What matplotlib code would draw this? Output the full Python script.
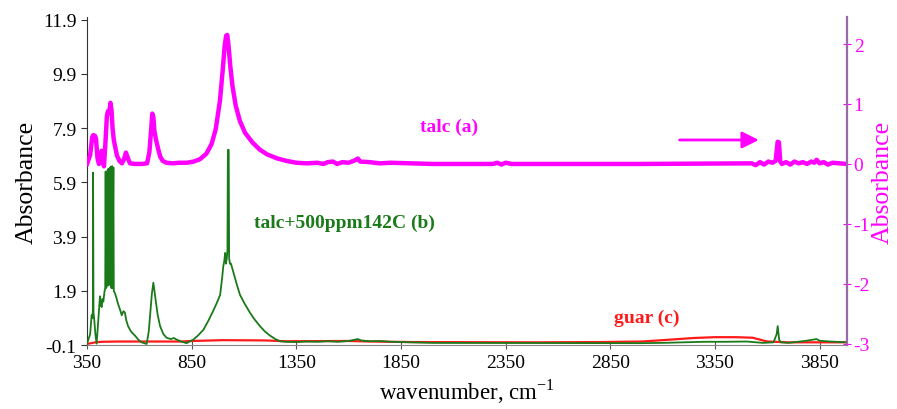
import matplotlib.pyplot as plt
import matplotlib.ticker as mticker

plt.rcParams['font.family'] = ['Liberation Serif', 'DejaVu Serif']
plt.rcParams['axes.unicode_minus'] = False

# talc (a), right axis: (wavenumber, absorbance)
talc_a = [(350, 0.0), (365, 0.15), (375, 0.45), (380, 0.48), (384, 0.40), (388, 0.47),
          (393, 0.42), (400, 0.10), (407, 0.0), (414, 0.12), (420, 0.22), (425, 0.05),
          (431, -0.04), (438, 0.35), (445, 0.80), (450, 0.88), (456, 0.85), (462, 1.02),
          (467, 0.90), (472, 0.60), (478, 0.40), (485, 0.28), (493, 0.14), (505, 0.05),
          (517, 0.01), (527, 0.08), (536, 0.19), (545, 0.10), (555, 0.01), (580, 0.0),
          (610, 0.0), (637, 0.01), (648, 0.20), (656, 0.55), (662, 0.84), (667, 0.78),
          (672, 0.55), (680, 0.40), (690, 0.25), (700, 0.12), (712, 0.05), (730, 0.02),
          (760, 0.01), (790, 0.02), (827, 0.02), (860, 0.04), (890, 0.08), (920, 0.17),
          (945, 0.33), (965, 0.58), (985, 1.05), (998, 1.55), (1008, 1.98), (1015, 2.14),
          (1020, 2.15), (1026, 1.98), (1034, 1.65), (1045, 1.30), (1060, 0.98),
          (1080, 0.72), (1105, 0.52), (1140, 0.36), (1175, 0.24), (1210, 0.16),
          (1260, 0.09), (1305, 0.05), (1350, 0.02), (1400, 0.01), (1450, 0.02),
          (1480, 0.0), (1500, 0.03), (1525, 0.04), (1545, 0.0), (1570, 0.03),
          (1600, 0.02), (1630, 0.06), (1644, 0.09), (1655, 0.04), (1700, 0.03),
          (1750, 0.01), (1800, 0.02), (1900, 0.01), (2000, 0.0), (2290, 0.0),
          (2310, 0.02), (2330, -0.01), (2350, 0.02), (2380, 0.0), (3000, 0.0),
          (3526, 0.01), (3545, -0.02), (3565, 0.03), (3585, -0.01), (3605, 0.04),
          (3625, 0.02), (3640, 0.05), (3650, 0.37), (3656, 0.36), (3662, 0.04),
          (3670, 0.0), (3690, 0.03), (3710, -0.01), (3730, 0.04), (3750, 0.01),
          (3770, 0.03), (3790, 0.0), (3810, 0.04), (3825, 0.02), (3836, 0.07),
          (3850, 0.01), (3870, 0.03), (3890, -0.01), (3912, 0.02), (3980, 0.0)]

# talc+500ppm142C (b), left axis
talc_b = [(350, -0.05), (365, 0.3), (372, 1.0), (376, 0.9), (378, 1.2), (379, 6.26),
          (381, 1.1), (385, 0.8), (390, 0.3), (396, -0.05), (402, 0.6), (408, 1.2),
          (412, 1.7), (416, 1.4), (420, 1.3), (424, 1.6), (428, 1.5), (434, 1.9),
          (437, 2.0), (439, 6.3), (441, 2.0), (446, 2.1), (449, 6.38), (451, 2.1),
          (454, 6.4), (456, 2.2), (460, 6.45), (462, 2.1), (465, 6.48), (467, 2.0),
          (470, 6.5), (472, 2.0), (476, 6.45), (478, 1.9), (484, 1.8), (492, 1.6),
          (499, 1.4), (508, 1.2), (516, 1.0), (524, 1.15), (531, 1.1), (538, 0.8),
          (546, 0.6), (560, 0.4), (579, 0.25), (595, 0.1), (611, 0.0), (635, -0.06),
          (645, 0.4), (651, 0.97), (660, 1.8), (667, 2.2), (672, 1.9), (679, 1.5),
          (688, 1.0), (699, 0.6), (715, 0.3), (730, 0.17), (750, 0.12), (765, 0.16),
          (778, 0.1), (800, 0.03), (826, -0.03), (840, 0.03), (858, 0.1), (880, 0.25),
          (906, 0.46), (930, 0.8), (954, 1.18), (970, 1.45), (986, 1.75), (996, 2.4),
          (1001, 2.8), (1006, 3.0), (1010, 3.3), (1014, 2.9), (1018, 3.1), (1021, 3.4),
          (1023, 7.1), (1027, 7.1), (1029, 3.1), (1033, 2.9), (1038, 2.9), (1049, 2.6),
          (1065, 2.15), (1081, 1.75), (1105, 1.4), (1129, 1.09), (1150, 0.85),
          (1176, 0.6), (1200, 0.4), (1224, 0.25), (1250, 0.12), (1272, 0.04),
          (1300, 0.02), (1350, 0.01), (1400, 0.03), (1450, 0.02), (1500, 0.04),
          (1550, 0.02), (1600, 0.05), (1630, 0.1), (1644, 0.12), (1660, 0.07),
          (1700, 0.04), (1750, 0.05), (1800, 0.02), (1850, 0.01), (1900, 0.0),
          (2000, -0.02), (3000, -0.03), (3100, -0.02), (3200, 0.0), (3300, 0.02),
          (3400, 0.02), (3500, 0.03), (3580, -0.02), (3630, 0.0), (3645, 0.3),
          (3650, 0.6), (3657, 0.1), (3665, 0.0), (3700, -0.02), (3780, 0.05),
          (3836, 0.12), (3850, 0.06), (3900, 0.03), (3980, 0.0)]

# guar (c), left axis
guar_c = [(350, -0.06), (390, 0.0), (420, 0.02), (500, 0.03), (800, 0.03), (850, 0.05),
          (1000, 0.08), (1200, 0.07), (1300, 0.04), (1600, 0.05), (1700, 0.03),
          (1900, 0.01), (2500, 0.0), (2800, 0.01), (3000, 0.03), (3100, 0.08),
          (3250, 0.16), (3350, 0.19), (3450, 0.19), (3530, 0.17), (3600, 0.03),
          (3700, 0.0), (3980, 0.0)]

left_ticks = [-0.1, 1.9, 3.9, 5.9, 7.9, 9.9, 11.9]
right_ticks = [-3, -2, -1, 0, 1, 2]
x_ticks = [350, 850, 1350, 1850, 2350, 2850, 3350, 3850]

magenta = '#ff00ff'
green = '#1a7a1a'
red = '#ff1a1a'

fig = plt.figure(figsize=(8.97, 4.10), dpi=100)
ax = fig.add_axes([0.097, 0.156, 0.847, 0.80])
ax2 = ax.twinx()

ax.plot(*zip(*guar_c), color=red, lw=1.6, zorder=2)
ax.plot(*zip(*talc_b), color=green, lw=1.3, zorder=3)
ax2.plot(*zip(*talc_a), color=magenta, lw=3.2)

ax.set_xlim(350, 3980)
ax.set_ylim(-0.1, 12.0)
ax2.set_ylim(-3.02, 2.45)

ax.set_xticks(x_ticks)
ax.set_yticks(left_ticks)
ax.yaxis.set_major_formatter(mticker.FormatStrFormatter('%.1f'))
ax2.set_yticks(right_ticks)

for a in (ax, ax2):
    a.spines['top'].set_visible(False)
ax.spines['right'].set_visible(False)
ax2.spines['left'].set_visible(False)
ax2.spines['bottom'].set_visible(False)
ax.spines['left'].set_color('#333333')
ax.spines['bottom'].set_color('#888888')
ax2.spines['right'].set_color('#9a6aa8')
ax2.spines['right'].set_linewidth(1.6)

ax.tick_params(axis='y', direction='out', length=4, labelsize=14, color='#333333')
ax.tick_params(axis='x', direction='inout', length=6, labelsize=14, color='#555555')
ax2.tick_params(axis='y', direction='inout', length=6, labelsize=14, pad=2,
                colors=magenta)

ax.set_ylabel('Absorbance', fontsize=18.5, labelpad=4)
ax2.set_ylabel('Absorbance', fontsize=18.5, color=magenta, labelpad=1)
ax.set_xlabel('wavenumber, cm$^{\\mathregular{-1}}$', fontsize=16.5, labelpad=4)

ax2.text(2080, 0.62, 'talc (a)', color=magenta, fontsize=14, fontweight='bold',
         ha='center', va='center')
ax.text(1582, 4.43, 'talc+500ppm142C (b)', color=green, fontsize=14,
        fontweight='bold', ha='center', va='center')
ax.text(3024, 0.93, 'guar (c)', color=red, fontsize=14, fontweight='bold',
        ha='center', va='center')
ax2.annotate('', xy=(3573, 0.4), xytext=(3168, 0.4),
             arrowprops=dict(arrowstyle='-|>,head_length=1.0,head_width=0.5',
                             color=magenta, lw=2))

fig.savefig('out.png', dpi=100)
